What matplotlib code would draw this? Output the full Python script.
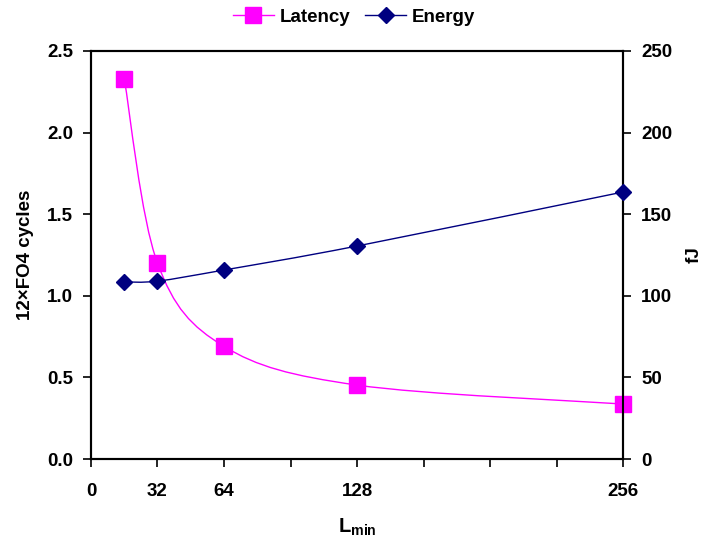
import numpy as np
import matplotlib.pyplot as plt
from matplotlib.path import Path
from matplotlib.patches import PathPatch

plt.rcParams['font.family'] = 'Liberation Sans'
plt.rcParams['font.weight'] = 'bold'
plt.rcParams['mathtext.fontset'] = 'custom'
plt.rcParams['mathtext.rm'] = 'Liberation Sans:bold'
plt.rcParams['mathtext.bf'] = 'Liberation Sans:bold'

l_min = [16, 32, 64, 128, 256]
latency = [2.33, 1.20, 0.69, 0.453, 0.337]   # 12xFO4 cycles
energy = [108.5, 109.0, 115.8, 130.5, 163.6]  # fJ

x_ticks = [0, 32, 64, 96, 128, 160, 192, 224, 256]
x_labels = ['0', '32', '64', '', '128', '', '', '', '256']

MAGENTA = '#FF00FF'
NAVY = '#000080'
FS = 13.5


def smooth_path(xs, ys):
    # Catmull-Rom style bezier through the points
    p = np.column_stack([xs, ys]).astype(float)
    verts = [p[0]]
    codes = [Path.MOVETO]
    n = len(p)
    for i in range(n - 1):
        prev = p[i - 1] if i > 0 else p[i]
        nxt = p[i + 2] if i + 2 < n else p[i + 1]
        c1 = p[i] + (p[i + 1] - prev) / 6.0
        c2 = p[i + 1] - (nxt - p[i]) / 6.0
        verts += [c1, c2, p[i + 1]]
        codes += [Path.CURVE4] * 3
    return Path(verts, codes)


fig = plt.figure(figsize=(7.08, 5.46), dpi=100)
ax1 = fig.add_axes([0.1285, 0.1593, 0.7515, 0.7473])
ax2 = ax1.twinx()

ax1.add_patch(PathPatch(smooth_path(l_min, latency), fill=False,
                        edgecolor=MAGENTA, lw=1.0, clip_on=False))
ax1.plot(l_min, latency, ls='none', marker='s', ms=11, color=MAGENTA,
         clip_on=False, zorder=3)
ax2.add_patch(PathPatch(smooth_path(l_min, energy), fill=False,
                        edgecolor=NAVY, lw=1.0, clip_on=False))
ax2.plot(l_min, energy, ls='none', marker='D', ms=8, color=NAVY,
         clip_on=False, zorder=3)

ax1.set_xlim(0, 256)
ax1.set_ylim(0, 2.5)
ax2.set_ylim(0, 250)
ax1.set_xticks(x_ticks)
ax1.set_xticklabels(x_labels)
ax1.set_yticks(np.arange(0, 2.51, 0.5))
ax1.set_yticklabels([f'{v:.1f}' for v in np.arange(0, 2.51, 0.5)])
ax2.set_yticks(np.arange(0, 251, 50))

for ax in (ax1, ax2):
    ax.tick_params(direction='out', length=6, width=1.2, labelsize=FS,
                   pad=7)
    for s in ax.spines.values():
        s.set_linewidth(1.5)
ax1.tick_params(axis='x', pad=11)

ax1.set_ylabel('12×FO4 cycles', fontsize=FS, fontweight='bold', labelpad=9)
ax2.set_ylabel('fJ', fontsize=FS, fontweight='bold', labelpad=10)
ax1.set_xlabel(r'L$_{\rm min}$', fontsize=14.5, fontweight='bold',
               labelpad=12)

h1 = plt.Line2D([], [], color=MAGENTA, marker='s', ms=11, lw=1)
h2 = plt.Line2D([], [], color=NAVY, marker='D', ms=8, lw=1)
fig.legend([h1, h2], ['Latency', 'Energy'], loc='upper center',
           bbox_to_anchor=(0.5, 1.015), ncol=2, frameon=False, fontsize=FS,
           handlelength=2.2, handletextpad=0.3, columnspacing=0.8)

fig.savefig('out.png', dpi=100)
